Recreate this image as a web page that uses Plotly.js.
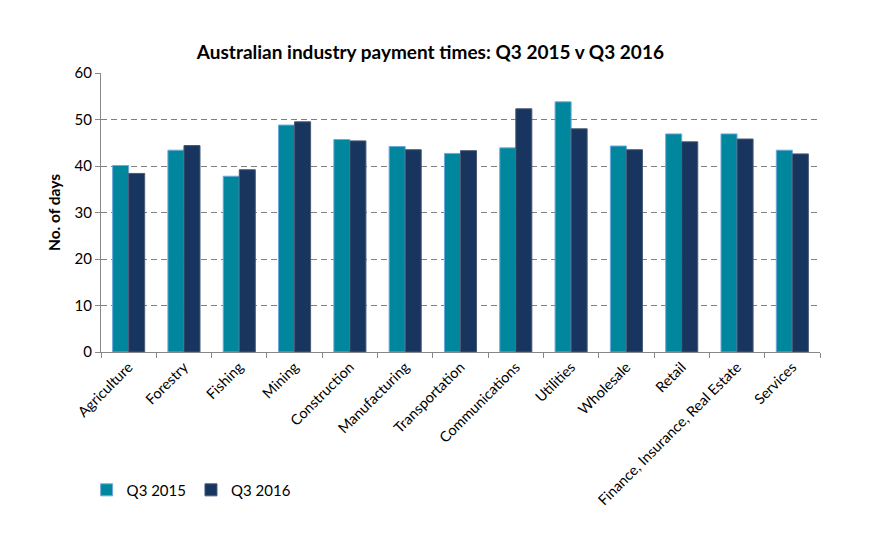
<!DOCTYPE html>
<html>
<head>
<meta charset="utf-8">
<script src="https://cdn.plot.ly/plotly-3.0.1.min.js"></script>
<style>html,body{margin:0;padding:0;background:#fff;}#chart{width:873px;height:547px;}</style>
</head>
<body>
<div id="chart"></div>
<script>
const categories = ["Agriculture","Forestry","Fishing","Mining","Construction","Manufacturing","Transportation","Communications","Utilities","Wholesale","Retail","Finance, Insurance, Real Estate","Services"];
const q3_2015 = [40.1, 43.4, 37.8, 48.8, 45.7, 44.2, 42.7, 43.9, 53.8, 44.3, 46.9, 46.9, 43.4];
const q3_2016 = [38.4, 44.4, 39.2, 49.5, 45.4, 43.5, 43.3, 52.3, 48.0, 43.5, 45.2, 45.8, 42.6];
const yTicks = [0, 10, 20, 30, 40, 50, 60];

const font = "Lato, 'Open Sans', sans-serif";
const traces = [
  {type:"bar", name:"Q3 2015", x:categories, y:q3_2015,
   marker:{color:"#00879E", line:{color:"#6FA8DC", width:1}}},
  {type:"bar", name:"Q3 2016", x:categories, y:q3_2016,
   marker:{color:"#17355E", line:{color:"#4A5A73", width:1}}}
];
const layout = {
  width:873, height:547,
  margin:{l:101, r:53, t:73, b:195},
  paper_bgcolor:"#fff", plot_bgcolor:"#fff",
  font:{family:font, size:14, color:"#000"},
  title:{text:"<b>Australian industry payment times: Q3 2015 v Q3 2016</b>", font:{family:font, size:19, color:"#000"}, x:0.493, xanchor:"center", y:0.905, yanchor:"middle"},
  barmode:"group", bargap:0.42, bargroupgap:0,
  xaxis:{type:"category", tickangle:-45, ticks:"outside", tickson:"boundaries", ticklen:5, tickcolor:"#888",
         showline:true, linecolor:"#888", linewidth:1, showgrid:false, tickfont:{family:font, size:14.5, color:"#000"}},
  yaxis:{range:[0,60], tickvals:yTicks, ticks:"outside", ticklen:5, tickcolor:"#888", showline:true, linecolor:"#888", linewidth:1,
         showgrid:true, gridcolor:"#808080", griddash:"6px,4px", gridwidth:1, zeroline:false,
         tickfont:{family:font, size:15, color:"#000"},
         title:{text:"<b>No. of days</b>", font:{family:font, size:15.5, color:"#000"}, standoff:10}},
  legend:{orientation:"h", x:-0.02, xanchor:"left", y:-0.495, yanchor:"middle", font:{family:font, size:15, color:"#000"}, traceorder:"normal", itemwidth:30},
  showlegend:true
};
Plotly.newPlot("chart", traces, layout, {displayModeBar:false, staticPlot:true});
</script>
</body>
</html>
